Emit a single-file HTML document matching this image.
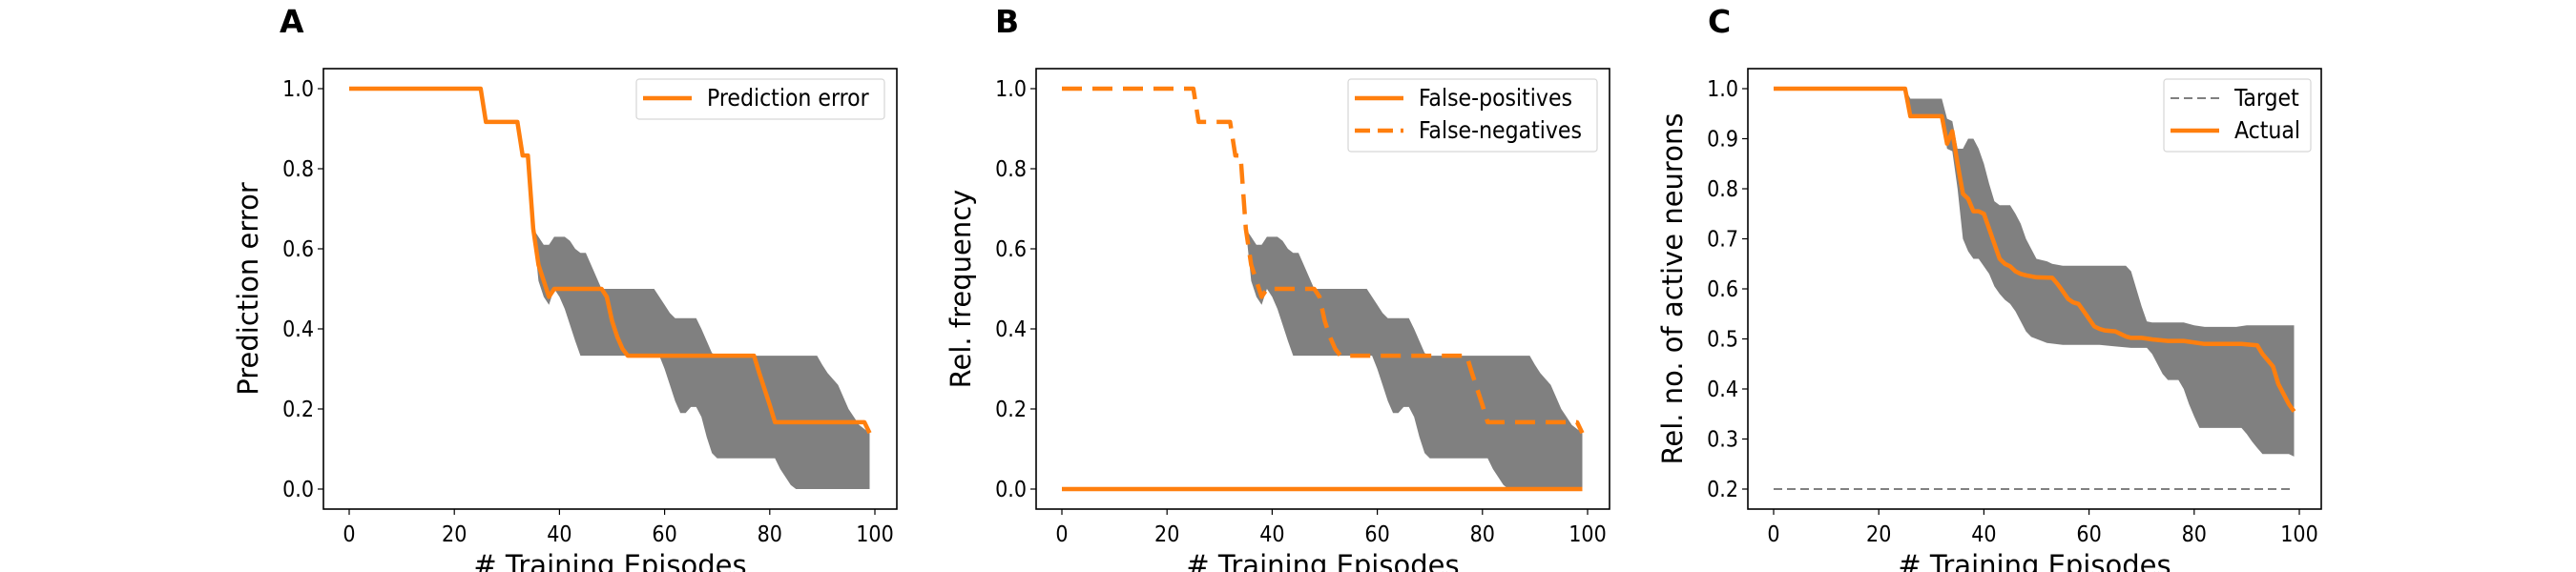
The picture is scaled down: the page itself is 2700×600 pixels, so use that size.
<!DOCTYPE html>
<html><head><meta charset="utf-8">
<style>
html,body{margin:0;padding:0;background:#fff;}
svg{display:block;}
text{font-family:"DejaVu Sans","Liberation Sans",sans-serif;}
.tick{font-family:"DejaVu Sans Condensed","DejaVu Sans","Liberation Sans Narrow",sans-serif;font-size:23px;fill:#000;}
.leg{font-family:"DejaVu Sans Condensed","DejaVu Sans","Liberation Sans Narrow",sans-serif;font-size:24.5px;fill:#000;}
</style></head>
<body>
<svg id="fig" width="2700" height="600" xmlns="http://www.w3.org/2000/svg"></svg>
<script>
// ---- data (x = episode, y = value) ----
const errMeanX = [0,25,26,32,33,34,35,36,37,38,39,48,49,50,51,52,53,77,78,79,80,81,98,99];
const errMeanY = [1,1,0.917,0.917,0.833,0.833,0.65,0.56,0.52,0.48,0.5,0.5,0.48,0.42,0.38,0.35,0.333,0.333,0.29,0.25,0.21,0.167,0.167,0.14];
const errUpX = [35,36,37,38,39,41,42,43,44,45,46,47,48,58,59,60,61,62,66,67,68,69,70,89,90,91,92,93,94,95,96,97,98,99];
const errUpY = [0.65,0.63,0.61,0.61,0.63,0.63,0.62,0.6,0.59,0.59,0.56,0.53,0.5,0.5,0.48,0.46,0.44,0.427,0.427,0.4,0.37,0.34,0.333,0.333,0.31,0.29,0.275,0.26,0.23,0.2,0.18,0.16,0.15,0.14];
const errLoX = [35,36,37,38,39,40,41,42,43,44,59,60,61,62,63,64,65,66,67,68,69,70,81,82,83,84,85,99];
const errLoY = [0.65,0.52,0.48,0.46,0.5,0.48,0.45,0.41,0.37,0.333,0.333,0.3,0.26,0.22,0.19,0.19,0.205,0.205,0.18,0.13,0.09,0.077,0.077,0.05,0.03,0.01,0,0];
const fpX = [0,99];
const fpY = [0,0];
const actMeanX = [0,25,26,32,33,34,35,36,37,38,39,40,41,42,43,44,45,46,47,48,50,53,54,55,56,57,58,59,60,61,62,63,65,66,67,68,70,72,75,78,82,89,92,93,95,96,97,98,99];
const actMeanY = [1,1,0.945,0.945,0.89,0.915,0.85,0.79,0.78,0.755,0.755,0.75,0.72,0.69,0.66,0.65,0.645,0.635,0.63,0.627,0.623,0.622,0.61,0.595,0.58,0.573,0.57,0.555,0.54,0.525,0.52,0.517,0.515,0.51,0.505,0.502,0.502,0.499,0.496,0.496,0.49,0.49,0.487,0.47,0.445,0.41,0.39,0.37,0.355];
const actUpX = [25,26,32,33,34,35,36,37,38,39,40,41,42,43,45,46,47,48,49,50,52,53,55,67,68,69,70,71,72,78,80,82,88,90,99];
const actUpY = [1,0.98,0.98,0.94,0.935,0.88,0.88,0.9,0.9,0.88,0.85,0.81,0.775,0.767,0.767,0.75,0.73,0.7,0.68,0.66,0.655,0.65,0.646,0.646,0.635,0.6,0.565,0.535,0.533,0.533,0.527,0.524,0.524,0.527,0.527];
const actLoX = [25,26,32,33,34,35,36,37,38,39,40,41,42,43,44,45,46,47,48,49,50,52,55,62,65,68,71,72,73,74,75,77,78,79,80,81,89,90,91,92,93,98,99];
const actLoY = [1,0.945,0.945,0.88,0.875,0.8,0.7,0.675,0.66,0.66,0.645,0.63,0.605,0.59,0.578,0.57,0.555,0.535,0.515,0.504,0.5,0.492,0.488,0.488,0.485,0.482,0.482,0.47,0.45,0.43,0.418,0.418,0.4,0.37,0.345,0.322,0.322,0.31,0.295,0.282,0.27,0.27,0.265];
const targetX = [0,99];
const targetY = [0.2,0.2];
const xTicks = [0,20,40,60,80,100];
const yTicksAB = [0,0.2,0.4,0.6,0.8,1.0];
const yTicksC = [0.2,0.3,0.4,0.5,0.6,0.7,0.8,0.9,1.0];

const NS = "http://www.w3.org/2000/svg";
const svg = document.getElementById('fig');
function el(tag, attrs, parent, txt){
  const e = document.createElementNS(NS, tag);
  for (const k in attrs) e.setAttribute(k, attrs[k]);
  if (txt !== undefined) e.textContent = txt;
  (parent||svg).appendChild(e);
  return e;
}

function panel(cfg){
  const L = cfg.left, R = L + 601, T = 72, B = 534;
  const x0px = L + 27, x100px = L + 578;
  const sx = v => x0px + (v/100)*(x100px - x0px);
  const sy = v => cfg.yTopPx + (cfg.yMax - v)/(cfg.yMax - cfg.yMin)*(cfg.yBotPx - cfg.yTopPx);
  const g = el('g', {});
  
  

  if (cfg.band){
    const [ux,uy,lx,ly] = cfg.band;
    let d = 'M';
    for (let i=0;i<ux.length;i++) d += (i?' L':'') + sx(ux[i]).toFixed(1)+','+sy(uy[i]).toFixed(1);
    for (let i=lx.length-1;i>=0;i--) d += ' L'+sx(lx[i]).toFixed(1)+','+sy(ly[i]).toFixed(1);
    d += ' Z';
    const p = el('path', {d:d, fill:'#808080', stroke:'none'}, g);
    
    
  }
  cfg.lines.forEach(ln => {
    const pts = ln.x.map((v,i)=> sx(v).toFixed(1)+','+sy(ln.y[i]).toFixed(1)).join(' ');
    const a = {points:pts, fill:'none', stroke:ln.color, 'stroke-width':ln.w, 'stroke-linejoin':'round'};
    if (ln.dash) a['stroke-dasharray'] = ln.dash;
    const pl = el('polyline', a, g);
    
    
  });
  const fr = el('rect', {x:L, y:T, width:R-L, height:B-T, fill:'none', stroke:'#000', 'stroke-width':1.6}, g);
  
  
  xTicks.forEach(t => {
    const x = sx(t);
    el('line', {x1:x, y1:B, x2:x, y2:B+6, stroke:'#000', 'stroke-width':1.2}, g);
    const tl = el('text', {x:x, y:568, 'text-anchor':'middle', class:'tick'}, g, String(t));
    
    
  });
  cfg.yTicks.forEach(t => {
    const y = sy(t);
    el('line', {x1:L, y1:y, x2:L-6, y2:y, stroke:'#000', 'stroke-width':1.2}, g);
    const tl = el('text', {x:L-10, y:y+8, 'text-anchor':'end', class:'tick'}, g, t.toFixed(1));
    
    
  });
  const xl = el('text', {x:(L+R)/2, y:603, 'text-anchor':'middle', 'font-size':29}, g, '# Training Episodes');
  
  
  const yl = el('text', {x:0, y:0, 'text-anchor':'middle', 'font-size':29, transform:'translate('+(cfg.ylabX)+',303) rotate(-90)'}, g, cfg.ylabel);
  
  
  const pl = el('text', {x:cfg.letterX, y:34, 'font-size':33, 'font-weight':'bold'}, g, cfg.letter);
  
  
  const lg = cfg.legend;
  const lb = el('rect', {x:lg.x, y:83, width:lg.w, height:lg.entries.length*34+8, rx:3, fill:'#fff', 'fill-opacity':0.8, stroke:'#d6d6d6', 'stroke-width':1.2}, g);
  
  
  lg.entries.forEach((en,i) => {
    const y = 103 + i*34;
    const a = {x1:lg.x+7, y1:y, x2:lg.x+58, y2:y, stroke:en.color, 'stroke-width':en.w};
    if (en.dash) a['stroke-dasharray'] = en.dash;
    el('line', a, g);
    const t = el('text', {x:lg.x+74, y:y+8, class:'leg'}, g, en.label);
    
    
  });
}

const OR = '#ff7f0e';
panel({name:'panel-a', left:339, yMin:0, yMax:1, yTopPx:93, yBotPx:513, yTicks:yTicksAB,
  band:[errUpX,errUpY,errLoX,errLoY],
  lines:[{name:'prediction-error-line', x:errMeanX, y:errMeanY, color:OR, w:4.5}],
  ylabel:'Prediction error', ylabX:270, letter:'A', letterX:293,
  legend:{x:667, w:260, entries:[{label:'Prediction error', color:OR, w:4.5}]}});
panel({name:'panel-b', left:1086, yMin:0, yMax:1, yTopPx:93, yBotPx:513, yTicks:yTicksAB,
  band:[errUpX,errUpY,errLoX,errLoY],
  lines:[{name:'false-positives-line', x:fpX, y:fpY, color:OR, w:4.5},
         {name:'false-negatives-line', x:errMeanX, y:errMeanY, color:OR, w:4.5, dash:'21 11'}],
  ylabel:'Rel. frequency', ylabX:1017, letter:'B', letterX:1043,
  legend:{x:1413, w:261, entries:[{label:'False-positives', color:OR, w:4.5},{label:'False-negatives', color:OR, w:4.5, dash:'16 8'}]}});
panel({name:'panel-c', left:1832, yMin:0.2, yMax:1, yTopPx:93, yBotPx:513, yTicks:yTicksC,
  band:[actUpX,actUpY,actLoX,actLoY],
  lines:[{name:'target-line', x:targetX, y:targetY, color:'#808080', w:2, dash:'9 5'},
         {name:'actual-line', x:actMeanX, y:actMeanY, color:OR, w:4.5}],
  ylabel:'Rel. no. of active neurons', ylabX:1763, letter:'C', letterX:1790,
  legend:{x:2268, w:154, entries:[{label:'Target', color:'#808080', w:2, dash:'9 5'},{label:'Actual', color:OR, w:4.5}]}});
</script>
</body></html>
